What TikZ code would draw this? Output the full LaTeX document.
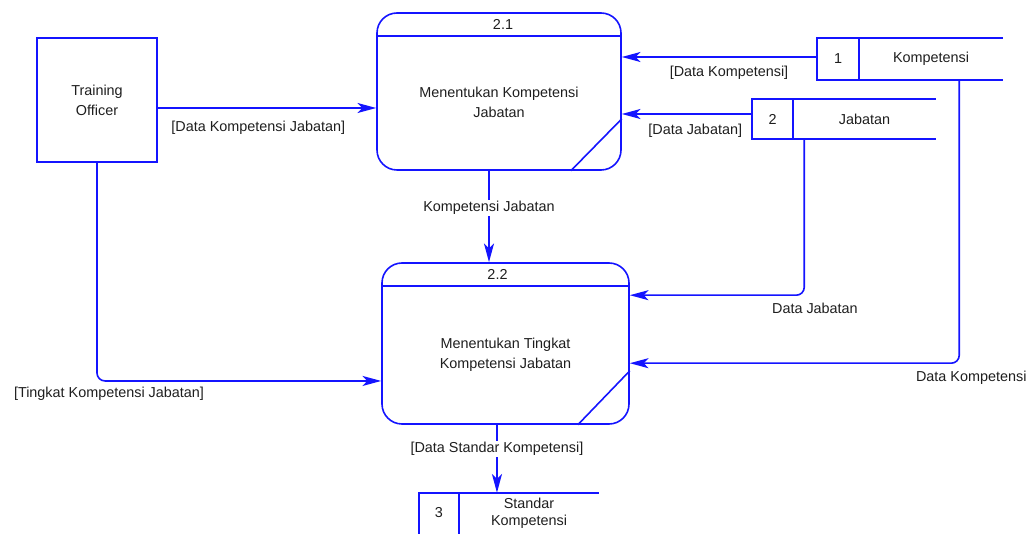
\documentclass[tikz,border=0pt]{standalone}
\usepackage{fontspec}
\setmainfont{Liberation Sans}
\usetikzlibrary{arrows.meta,positioning}
\definecolor{dfdline}{RGB}{20,20,255}
\definecolor{dfdtext}{RGB}{30,30,30}
\tikzset{
  line/.style={draw=dfdline, line width=1.2pt},
  flow/.style={line, -{Stealth[length=14pt,width=7.5pt,inset=3.5pt]}},
  proc/.style={line, rounded corners=15pt, inner sep=0pt},
  cell/.style={inner sep=0pt, minimum height=31pt},
  flowlabel/.style={inner sep=1pt}
}
\begin{document}
\begin{tikzpicture}[x=0.75pt,y=-0.75pt,
  every node/.style={font=\fontsize{10.8}{15}\selectfont, text=dfdtext, align=center}]
  \useasboundingbox (0,0) rectangle (1029,534);
  % external entity
  \node[line, inner sep=0pt, minimum width=90pt, minimum height=93pt] (officer) at (97,100) {Training\\Officer};
  % processes
  \node[proc, minimum width=183pt, minimum height=117.75pt] (p21) at (499,91.5) {};
  \node[proc, minimum width=185.25pt, minimum height=120.75pt] (p22) at (505.5,343.5) {};
  \node (p21-id) at ([xshift=3pt,yshift=-9pt]p21.north) {2.1};
  \node (p22-id) at ([xshift=-6pt,yshift=-9pt]p22.north) {2.2};
  \node (p21-txt) at ([yshift=-8.25pt]p21.center) {Menentukan Kompetensi\\Jabatan};
  \node (p22-txt) at ([yshift=-8.6pt]p22.center) {Menentukan Tingkat\\Kompetensi Jabatan};
  \foreach \p/\dx/\dy in {p21/38.25/39, p22/39/40.5}
  {
    \draw[line] ([yshift=-18pt]\p.north west) -- ([yshift=-18pt]\p.north east);
    \draw[line] ([xshift=-\dx pt]\p.south east) -- ([yshift=\dy pt]\p.south east);
  }
  % data stores
  \node[cell, minimum width=31.5pt] (s1-num) at (838,59) {1};
  \node[cell, minimum width=107.25pt, right=0pt of s1-num] (s1-name) {Kompetensi};
  \node[cell, minimum width=30.75pt, minimum height=30pt] (s2-num) at (772.5,119) {2};
  \node[cell, minimum width=106.5pt, minimum height=30pt, right=0pt of s2-num] (s2-name) {Jabatan};
  \node[cell, minimum width=30pt, minimum height=30pt] (s3-num) at (439,513) {3};
  \node[cell, minimum width=104.25pt, minimum height=30pt, right=0pt of s3-num,
    font=\fontsize{10.8}{12.8}\selectfont] (s3-name) {Standar\\Kompetensi};
  \foreach \s in {s1,s2}
  {
    \draw[line] (\s-name.north east) -- (\s-num.north west) -- (\s-num.south west) -- (\s-name.south east);
    \draw[line] (\s-num.north east) -- (\s-num.south east);
  }
  \draw[line] (s3-name.north east) -- (s3-num.north west) -- ([yshift=-6pt]s3-num.south west);
  \draw[line] (s3-num.north east) -- ([yshift=-6pt]s3-num.south east);
  % flows into 2.1
  \draw[flow] ([yshift=-6pt]officer.east) coordinate (o1) -- (o1 -| p21.west)
    node[flowlabel, pos=0.46, below=8pt] (l1) {[Data Kompetensi Jabatan]};
  \draw[flow] ([yshift=1.5pt]s1-num.west) coordinate (k1) -- (k1 -| p21.east)
    node[flowlabel, pos=0.45, below=5.5pt] (l2) {[Data Kompetensi]};
  \draw[flow] ([yshift=3.75pt]s2-num.west) coordinate (j1) -- (j1 -| p21.east)
    node[flowlabel, pos=0.435, below=6pt] (l3) {[Data Jabatan]};
  % 2.1 to 2.2
  \draw[flow] ([xshift=-7.5pt]p21.south) coordinate (a1) -- (a1 |- p22.north)
    node[flowlabel, pos=0.41, fill=white] (l4) {Kompetensi Jabatan};
  % flows into 2.2
  \draw[flow, rounded corners=6pt] ([xshift=8.25pt]s2-num.south east) |- ([yshift=-24.75pt]p22.north east)
    node[flowlabel, pos=0.5, below=4pt, xshift=8pt] (l5) {Data Jabatan};
  \draw[flow, rounded corners=6pt] ([xshift=75pt]s1-num.south east) |- ([yshift=-75.75pt]p22.north east)
    node[flowlabel, pos=0.5, below=4pt, xshift=9pt] (l6) {Data Kompetensi};
  \draw[flow, rounded corners=6pt] (officer.south) |- ([yshift=-28.1pt]p22.west)
    node[flowlabel, pos=0.5, below=3pt, xshift=9pt] (l7) {[Tingkat Kompetensi Jabatan]};
  % 2.2 to store 3
  \draw[flow] ([xshift=-6.4pt]p22.south) coordinate (a2) -- (a2 |- s3-num.north)
    node[flowlabel, pos=0.35, fill=white] (l8) {[Data Standar Kompetensi]};
\end{tikzpicture}
\end{document}
